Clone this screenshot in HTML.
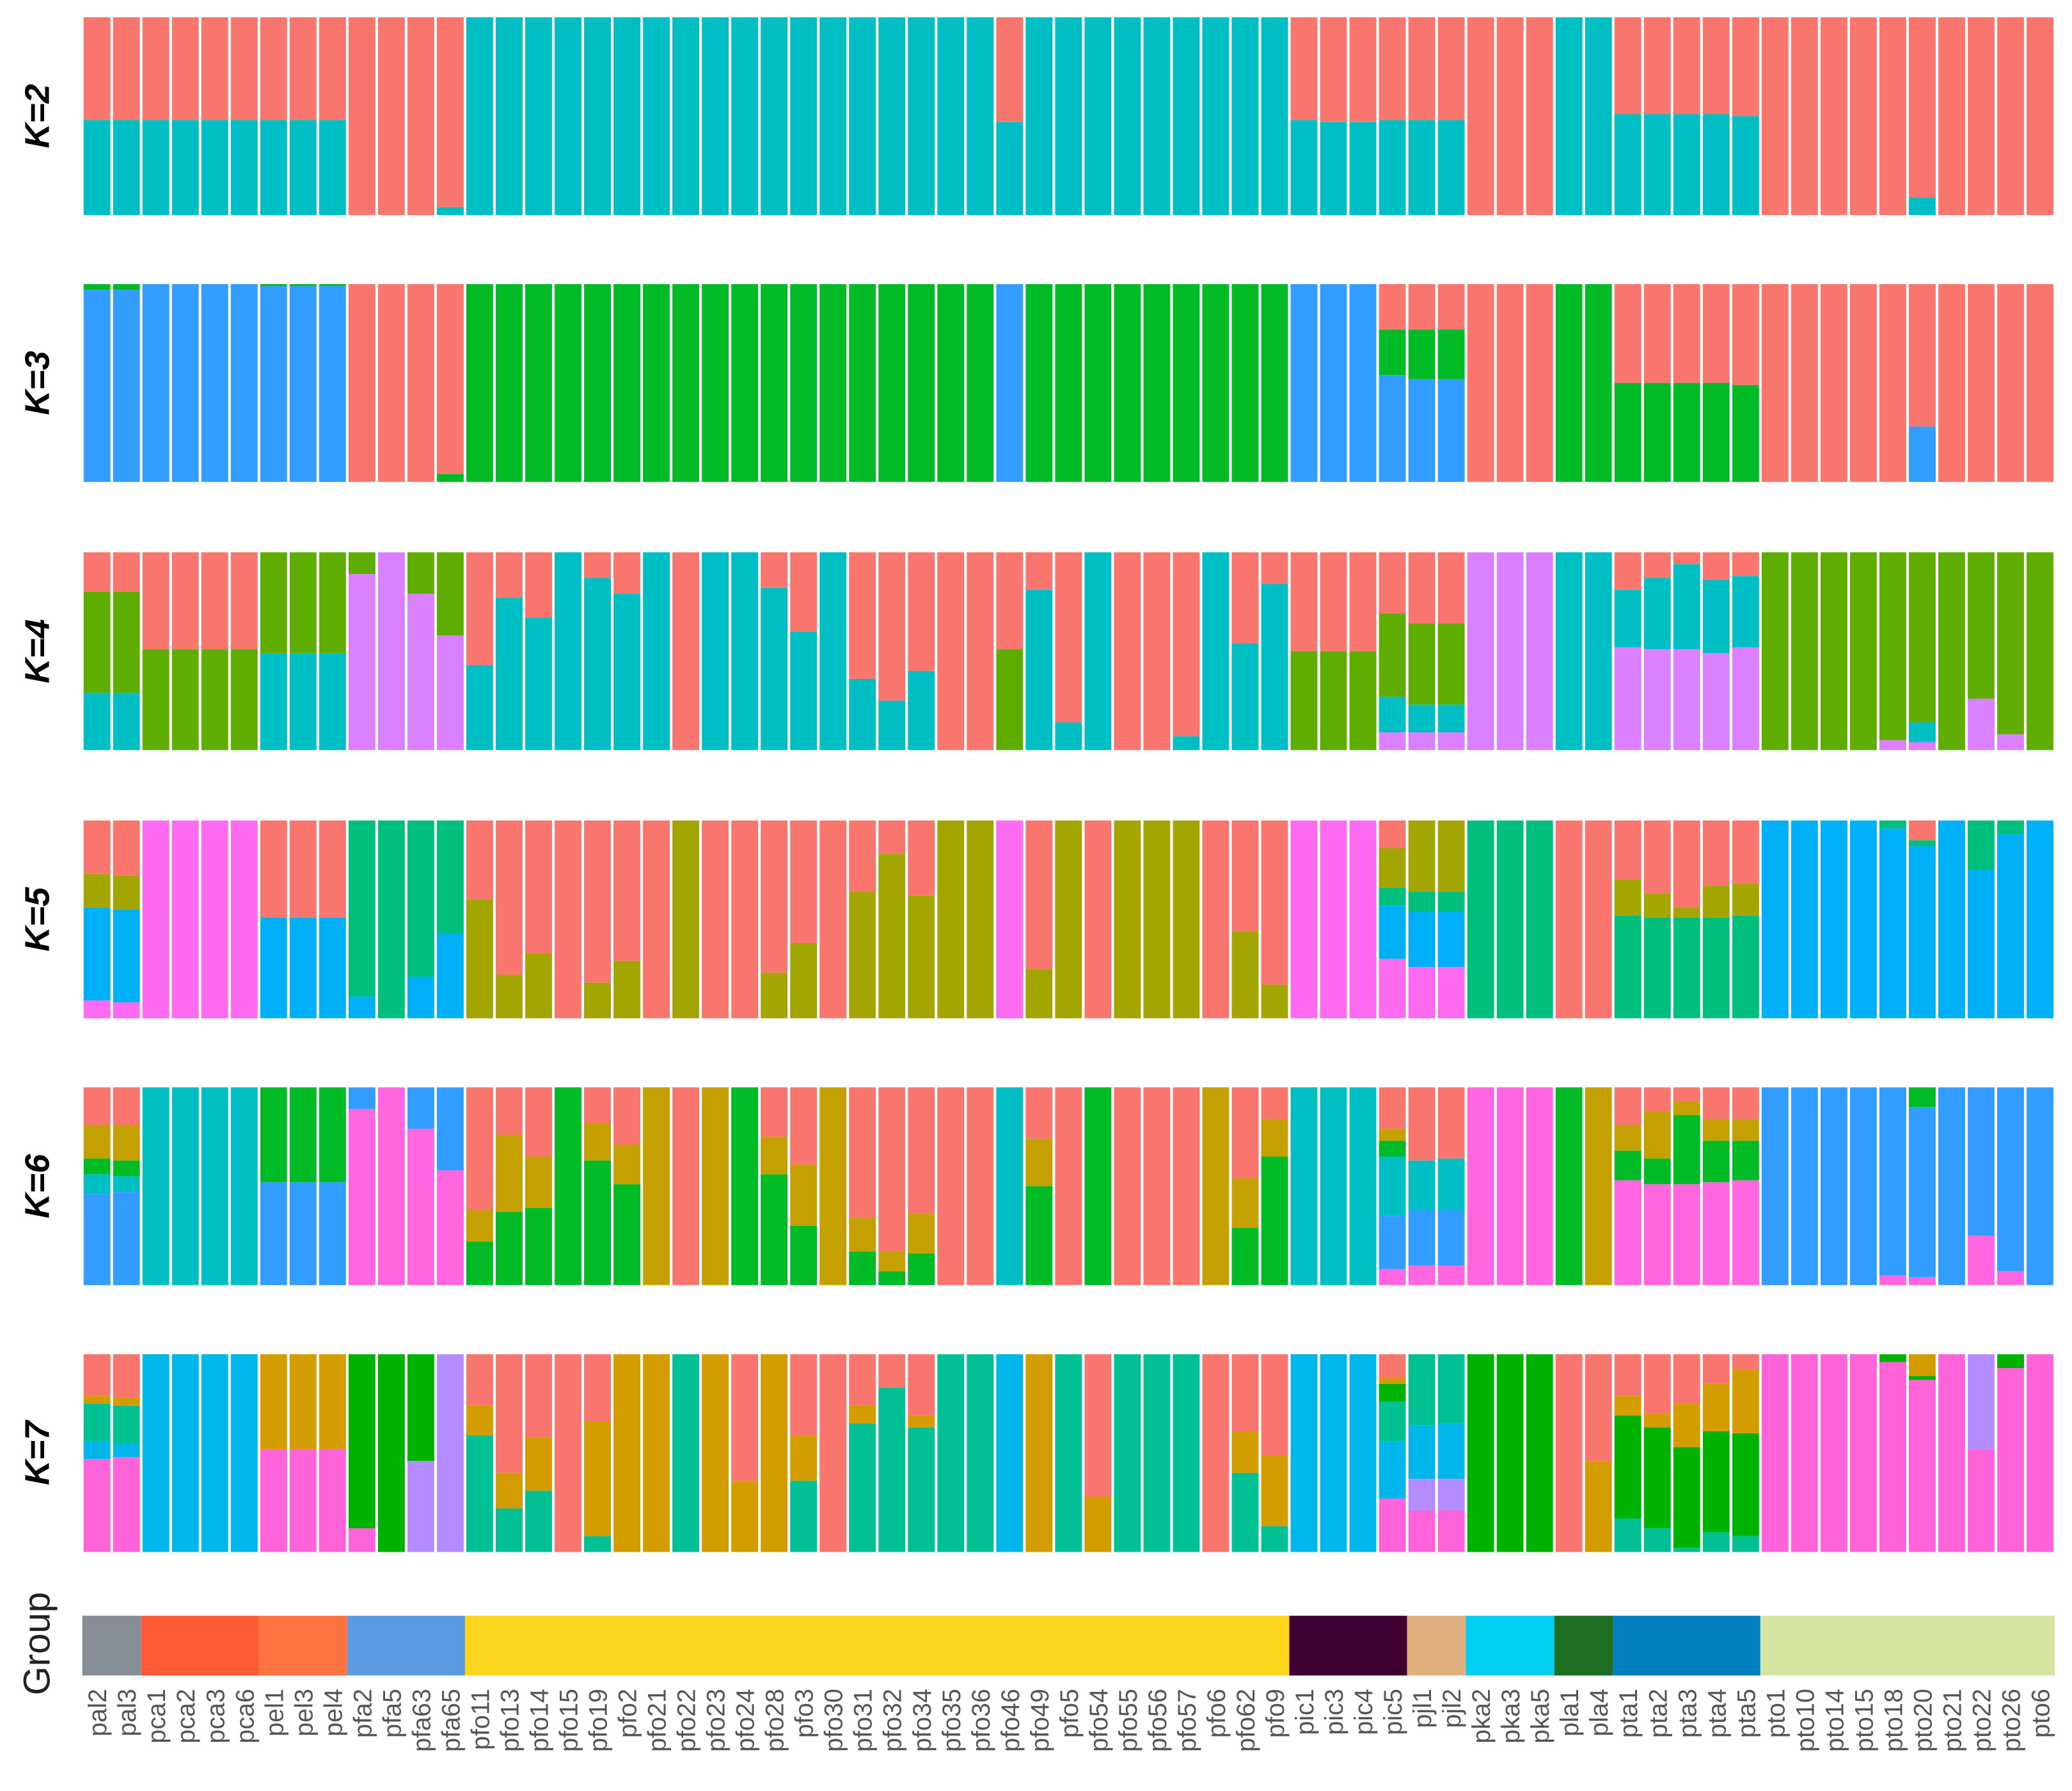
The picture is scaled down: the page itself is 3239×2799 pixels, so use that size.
<!DOCTYPE html>
<html><head><meta charset="utf-8"><title>Admixture plot</title>
<style>
html,body{margin:0;padding:0;background:#fff;}
svg{display:block;}
</style></head>
<body>
<svg id="chart" xmlns="http://www.w3.org/2000/svg" width="3239" height="2799" viewBox="0 0 1561 1349" preserveAspectRatio="none">
<g id="panels"></g>
<g id="groupbar"></g>
<g id="labels"></g>
<text x="30" y="1238" transform="rotate(-90 30 1238)" text-anchor="middle" dominant-baseline="middle" font-family="Liberation Sans, sans-serif" font-size="28" fill="#222">Group</text>
</svg>
<script>
const samples = ["pal2","pal3","pca1","pca2","pca3","pca6","pel1","pel3","pel4","pfa2","pfa5","pfa63","pfa65","pfo11","pfo13","pfo14","pfo15","pfo19","pfo2","pfo21","pfo22","pfo23","pfo24","pfo28","pfo3","pfo30","pfo31","pfo32","pfo34","pfo35","pfo36","pfo46","pfo49","pfo5","pfo54","pfo55","pfo56","pfo57","pfo6","pfo62","pfo9","pic1","pic3","pic4","pic5","pjl1","pjl2","pka2","pka3","pka5","pla1","pla4","pta1","pta2","pta3","pta4","pta5","pto1","pto10","pto14","pto15","pto18","pto20","pto21","pto22","pto26","pto6"];
const groupNames = ["pal","pca","pel","pfa","pfo","pic","pjl","pka","pla","pta","pto"];
const groupSizes = [2,4,3,4,28,4,2,3,2,5,10];
const groupColors = ["#878F96","#FF5A36","#FF7340","#5A9AE0","#FDD41E","#3D0030","#DDB07E","#00CFF2","#1E6E24","#0080C0","#D5E3A0"];
const kLabels = ["K=2","K=3","K=4","K=5","K=6","K=7"];
const colors2 = {R:"#F8766D",C:"#00BFC4"};
const colors3 = {R:"#F8766D",G:"#00BA26",B:"#339DFF"};
const colors4 = {R:"#F8766D",O:"#5FAD00",C:"#00BFC4",P:"#DB80FF"};
const colors5 = {R:"#F8766D",Y:"#A3A500",G:"#00BF7D",B:"#00B0F6",P:"#FF6BF0"};
const colors6 = {R:"#F8766D",Y:"#C4A000",G:"#00BA26",C:"#00BFC4",B:"#339DFF",P:"#FF66E0"};
const colors7 = {R:"#F8766D",Y:"#D39C00",G:"#00B200",T:"#00C094",B:"#00B6EB",U:"#B38CFF",P:"#FF63DA"};
const k2 = ["R52 C48","R52 C48","R52 C48","R52 C48","R52 C48","R52 C48","R52 C48","R52 C48","R52 C48","R100","R100","R100","R96 C4",
"C100","C100","C100","C100","C100","C100","C100","C100","C100","C100","C100","C100","C100","C100","C100","C100","C100","C100","R53 C47","C100","C100","C100","C100","C100","C100","C100","C100","C100",
"R52 C48","R53 C47","R53 C47","R52 C48","R52 C48","R52 C48","R100","R100","R100","C100","C100","R49 C51","R49 C51","R49 C51","R49 C51","R50 C50",
"R100","R100","R100","R100","R100","R91 C9","R100","R100","R100","R100"];
const k3 = ["G3 B97","G3 B97","B100","B100","B100","B100","G1 B99","G1 B99","G1 B99","R100","R100","R100","R96 G4",
"G100","G100","G100","G100","G100","G100","G100","G100","G100","G100","G100","G100","G100","G100","G100","G100","G100","G100","B100","G100","G100","G100","G100","G100","G100","G100","G100","G100",
"B100","B100","B100","R23 G23 B54","R23 G25 B52","R23 G25 B52","R100","R100","R100","G100","G100","R50 G50","R50 G50","R50 G50","R50 G50","R51 G49",
"R100","R100","R100","R100","R100","R72 B28","R100","R100","R100","R100"];
const k4 = ["R20 O51 C29","R20 O51 C29","R49 O51","R49 O51","R49 O51","R49 O51","O51 C49","O51 C49","O51 C49","O11 P89","P100","O21 P79","O42 P58",
"R57 C43","R23 C77","R33 C67","C100","R13 C87","R21 C79","C100","R100","C100","C100","R18 C82","R40 C60","C100","R64 C36","R75 C25","R60 C40","R100","R100","R49 O51","R19 C81","R86 C14","C100","R100","R100","R93 C7","C100","R46 C54","R16 C84",
"R50 O50","R50 O50","R50 O50","R31 O42 C18 P9","R36 O41 C14 P9","R36 O41 C14 P9","P100","P100","P100","C100","C100","R19 C29 P52","R13 C36 P51","R6 C43 P51","R14 C37 P49","R12 C36 P52",
"O100","O100","O100","O100","O95 P5","O86 C10 P4","O100","O74 P26","O92 P8","O100"];
const k5 = ["R27 Y17 B47 P9","R28 Y17 B47 P8","P100","P100","P100","P100","R49 B51","R49 B51","R49 B51","G89 B11","G100","G79 B21","G57 B43",
"R40 Y60","R78 Y22","R67 Y33","R100","R82 Y18","R71 Y29","R100","Y100","R100","R100","R77 Y23","R62 Y38","R100","R36 Y64","R17 Y83","R38 Y62","Y100","Y100","P100","R75 Y25","Y100","R100","Y100","Y100","Y100","R100","R56 Y44","R83 Y17",
"P100","P100","P100","R14 Y20 G9 B27 P30","Y36 G10 B28 P26","Y36 G10 B28 P26","G100","G100","G100","R100","R100","R30 Y18 G52","R37 Y12 G51","R44 Y5 G51","R33 Y16 G51","R32 Y16 G52",
"B100","B100","B100","B100","G4 B96","R10 G3 B87","B100","G25 B75","G7 B93","B100"];
const k6 = ["R19 Y17 G8 C10 B46","R19 Y18 G8 C8 B47","C100","C100","C100","C100","G48 B52","G48 B52","G48 B52","B11 P89","P100","B21 P79","B42 P58",
"R62 Y16 G22","R24 Y39 G37","R35 Y26 G39","G100","R18 Y19 G63","R29 Y20 G51","Y100","R100","Y100","G100","R25 Y19 G56","R39 Y31 G30","Y100","R66 Y17 G17","R83 Y10 G7","R64 Y20 G16","R100","R100","C100","R26 Y24 G50","R100","G100","R100","R100","R100","Y100","R46 Y25 G29","R16 Y19 G65",
"C100","C100","C100","R21 Y6 G8 C30 B27 P8","R37 C25 B28 P10","R36 C26 B28 P10","P100","P100","P100","G100","Y100","R19 Y13 G15 P53","R12 Y24 G13 P51","R7 Y7 G35 P51","R16 Y11 G21 P52","R16 Y11 G20 P53",
"B100","B100","B100","B100","B95 P5","G10 B86 P4","B100","B75 P25","B93 P7","B100"];
const k7 = ["R21 Y4 T19 B9 P47","R22 Y4 T19 B7 P48","B100","B100","B100","B100","Y48 P52","Y48 P52","Y48 P52","G88 P12","G100","G54 U46","U100",
"R26 Y15 T59","R60 Y18 T22","R42 Y27 T31","R100","R34 Y58 T8","Y100","Y100","T100","Y100","R64 Y36","Y100","R41 Y23 T36","R100","R26 Y9 T65","R17 T83","R31 Y6 T63","T100","T100","B100","Y100","T100","R72 Y28","T100","T100","T100","R100","R39 Y21 T40","R51 Y36 T13",
"B100","B100","B100","R12 Y3 G9 T20 B29 P27","T36 B27 U16 P21","T35 B28 U16 P21","G100","G100","G100","R100","R54 Y46","R21 Y10 G52 T17","R30 Y7 G51 T12","R25 Y22 G51 T2","R15 Y24 G51 T10","R8 Y32 G52 T8",
"P100","P100","P100","P100","G4 P96","Y11 G2 P87","P100","U48 P52","G7 P93","P100"];

const SVGNS = "http://www.w3.org/2000/svg";
const X0 = 62, X1 = 1548;
const n = samples.length;
const bw = (X1 - X0) / n;
const panelTops = [13, 214, 416, 618, 819, 1020];
const panelH = 149;
const xPos = i => X0 + i * bw;
const yScale = (top, f) => top + f * panelH;

const panelsData = [k2, k3, k4, k5, k6, k7];
const panelColors = [colors2, colors3, colors4, colors5, colors6, colors7];
const gPanels = document.getElementById('panels');

panelsData.forEach((data, p) => {
  const g = document.createElementNS(SVGNS, 'g');
  
  
  gPanels.appendChild(g);
  const top = panelTops[p];
  data.forEach((str, i) => {
    const segs = str.trim().split(/\s+/).map(s => [s[0], parseFloat(s.slice(1))]);
    const total = segs.reduce((a, s) => a + s[1], 0);
    let cum = 0;
    segs.forEach(([c, v]) => {
      const y0 = yScale(top, cum / total);
      cum += v;
      const y1 = yScale(top, cum / total);
      const r = document.createElementNS(SVGNS, 'rect');
      r.setAttribute('x', (xPos(i) + 1).toFixed(2));
      r.setAttribute('y', y0.toFixed(2));
      r.setAttribute('width', (bw - 2).toFixed(2));
      r.setAttribute('height', Math.max(0, y1 - y0).toFixed(2));
      r.setAttribute('fill', panelColors[p][c]);
      
      
      g.appendChild(r);
    });
  });
  const t = document.createElementNS(SVGNS, 'text');
  const cy = top + panelH / 2;
  t.setAttribute('x', 30);
  t.setAttribute('y', cy);
  t.setAttribute('transform', 'rotate(-90 30 ' + cy + ')');
  t.setAttribute('text-anchor', 'middle');
  t.setAttribute('dominant-baseline', 'middle');
  t.setAttribute('font-family', 'Liberation Sans, sans-serif');
  t.setAttribute('font-size', '26');
  t.setAttribute('font-weight', 'bold');
  t.setAttribute('font-style', 'italic');
  t.setAttribute('fill', '#000');
  t.textContent = kLabels[p];
  
  
  gPanels.appendChild(t);
});

const gGroup = document.getElementById('groupbar');
let start = 0;
groupSizes.forEach((sz, gi) => {
  const r = document.createElementNS(SVGNS, 'rect');
  r.setAttribute('x', xPos(start).toFixed(2));
  r.setAttribute('y', 1217);
  r.setAttribute('width', (sz * bw).toFixed(2));
  r.setAttribute('height', 45);
  r.setAttribute('fill', groupColors[gi]);
  
  
  gGroup.appendChild(r);
  start += sz;
});

const gLab = document.getElementById('labels');
samples.forEach((s, i) => {
  const cx = xPos(i) + bw / 2 + 7;
  const t = document.createElementNS(SVGNS, 'text');
  t.setAttribute('x', cx);
  t.setAttribute('y', 1272);
  t.setAttribute('transform', 'rotate(-90 ' + cx + ' 1272)');
  t.setAttribute('text-anchor', 'end');
  t.setAttribute('font-family', 'Liberation Sans, sans-serif');
  t.setAttribute('font-size', '19');
  t.setAttribute('fill', '#555');
  t.textContent = s;
  
  
  gLab.appendChild(t);
});
</script>
</body></html>
